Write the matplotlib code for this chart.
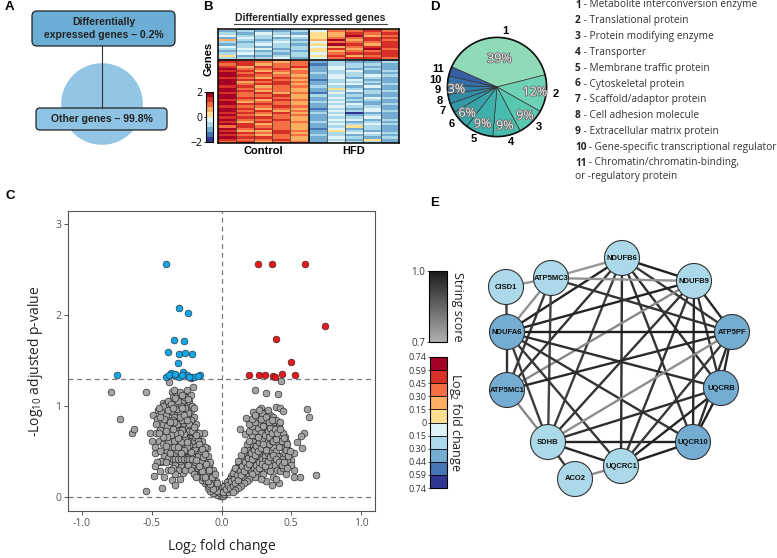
import numpy as np
import matplotlib
matplotlib.use('agg')
import matplotlib.pyplot as plt
import matplotlib.patheffects as pe
from matplotlib.colors import ListedColormap, BoundaryNorm, LinearSegmentedColormap, Normalize
from matplotlib.cm import ScalarMappable
from matplotlib.patches import FancyBboxPatch, Circle

plt.rcParams['font.family'] = ['Open Sans', 'DejaVu Sans']
plt.rcParams['mathtext.fontset'] = 'custom'
plt.rcParams['mathtext.rm'] = 'Open Sans'
plt.rcParams['mathtext.it'] = 'Open Sans:italic'
plt.rcParams['mathtext.bf'] = 'Open Sans:bold'

# ---------------- data ----------------
# A: share of genes
de_share = [0.2, 99.8]

# B: heatmap, one digit per cell (0 = -2 ... 9 = +2), columns 5 Control + 5 HFD
heat_up = [
    "5133356686", "2322347787", "3243256878", "4334456967", "2432357788",
    "6323269687", "3234347778", "2343259868", "4323346788", "3442358697",
    "2323256778", "3432347888", "5223358678", "3334247887",
]
heat_down = [
    "8777623322", "8876723223", "7867713332", "8687824322", "9778624232",
    "8867723423", "9786733322", "9877624343", "8768724232", "9887613422",
    "9678723332", "9788624423", "8867733242", "9777625322", "9867623433",
    "8786714232", "9778633322", "9887624243", "8768723332", "9677634222",
    "9887623423", "8778724332", "9867613242", "9786724343", "8878633022",
    "9767724232", "8887623342", "9778624423", "8687733232", "9867624343",
    "7877623532", "9787614232", "8668725322", "9878623443", "8767733232",
    "9887624323", "8778623252", "7867724332",
]
heat_groups = ["Control", "HFD"]

# C: volcano plot
down_lfc = [-0.397, -0.308, -0.239, -0.339, -0.268, -0.380, -0.308, -0.258, -0.213, -0.313,
            -0.748, -0.151, -0.397, -0.301, -0.217, -0.349, -0.277, -0.361, -0.194, -0.249,
            -0.375, -0.330, -0.285, -0.230, -0.170]
down_p = [2.557, 2.073, 2.015, 1.725, 1.714, 1.597, 1.568, 1.579, 1.575, 1.476,
          1.344, 1.344, 1.322, 1.315, 1.322, 1.344, 1.370, 1.362, 1.315, 1.344,
          1.340, 1.350, 1.335, 1.318, 1.330]
up_lfc = [0.260, 0.363, 0.597, 0.741, 0.392, 0.495, 0.194, 0.272, 0.313, 0.368, 0.385, 0.432, 0.526]
up_p = [2.557, 2.557, 2.557, 1.879, 1.740, 1.480, 1.341, 1.344, 1.344, 1.330, 1.319, 1.352, 1.344]
gray_points = [
    (-0.791, 1.158), (-0.726, 0.861), (-0.640, 0.700), (-0.628, 0.744), (-0.538, 1.150),
    (-0.540, 0.070), (-0.487, 0.231), (-0.492, 0.901), (-0.425, 0.095), (-0.511, 0.707),
    (-0.478, 0.480), (-0.437, 0.388), (-0.375, 1.267), (-0.358, 1.158), (-0.308, 1.132),
    (-0.234, 1.121), (-0.206, 1.212), (-0.217, 1.304), (-0.421, 1.029), (-0.456, 0.956),
    (-0.354, 0.187), (-0.330, 0.132), (-0.277, 0.260), (-0.124, 0.707), (-0.103, 0.535),
    (0.241, 1.176), (0.428, 1.278), (0.320, 1.147), (0.406, 1.132), (0.282, 0.974),
    (0.296, 0.927), (0.387, 0.993), (0.421, 0.974), (0.444, 0.949), (0.612, 0.963),
    (0.626, 0.883), (0.588, 0.707), (0.571, 0.670), (0.542, 0.608), (0.578, 0.542),
    (0.523, 0.480), (0.499, 0.407), (0.523, 0.297), (0.559, 0.223), (0.679, 0.242),
    (0.519, 0.223), (0.456, 0.663), (0.411, 0.158), (0.363, 0.132), (0.134, 0.744),
    (0.170, 0.692), (0.229, 0.930), (0.263, 0.890), (0.177, 0.864), (0.296, 0.791),
    (-0.01, 0.01), (-0.02, 0.03), (-0.03, 0.02), (-0.02, 0.06), (-0.04, 0.05), (-0.05, 0.08),
    (-0.03, 0.10), (-0.06, 0.04), (-0.07, 0.12), (-0.05, 0.15), (-0.08, 0.07), (-0.09, 0.16),
    (-0.06, 0.20), (-0.10, 0.10), (-0.11, 0.21), (-0.08, 0.25), (-0.12, 0.15), (-0.13, 0.27),
    (-0.10, 0.31), (-0.14, 0.19), (-0.15, 0.33), (-0.12, 0.37), (-0.16, 0.24), (-0.17, 0.40),
    (-0.14, 0.44), (-0.18, 0.29), (-0.19, 0.47), (-0.16, 0.52), (-0.20, 0.34), (-0.21, 0.55),
    (-0.18, 0.60), (-0.22, 0.39), (-0.23, 0.63), (-0.20, 0.68), (-0.24, 0.44), (-0.25, 0.71),
    (-0.22, 0.76), (-0.26, 0.50), (-0.27, 0.79), (-0.24, 0.84), (-0.28, 0.55), (-0.29, 0.88),
    (-0.26, 0.92), (-0.30, 0.61), (-0.31, 0.96), (-0.28, 1.00), (-0.32, 0.66), (-0.33, 1.03),
    (-0.30, 1.07), (-0.34, 0.72), (-0.35, 1.10), (-0.36, 0.79), (-0.38, 0.85), (-0.37, 0.98),
    (-0.39, 0.92), (-0.40, 1.02), (-0.41, 0.68), (-0.42, 0.80), (-0.44, 0.74), (-0.43, 0.93),
    (-0.45, 0.62), (-0.46, 0.86), (-0.47, 0.70), (-0.48, 0.55), (-0.04, 0.18), (-0.07, 0.28),
    (-0.09, 0.35), (-0.11, 0.42), (-0.13, 0.50), (-0.15, 0.57), (-0.17, 0.66), (-0.19, 0.72),
    (-0.21, 0.80), (-0.23, 0.88), (-0.25, 0.95), (-0.27, 1.05), (-0.29, 0.75), (-0.31, 0.83),
    (-0.33, 0.90), (-0.35, 0.58), (-0.37, 0.64), (-0.39, 0.50), (-0.41, 0.45), (-0.43, 0.40),
    (-0.20, 0.50), (-0.22, 0.58), (-0.24, 0.65), (-0.26, 0.70), (-0.28, 0.45), (-0.30, 0.50),
    (-0.32, 0.42), (-0.34, 0.48), (-0.36, 0.40), (-0.38, 0.43), (-0.40, 0.38), (-0.25, 0.42),
    (-0.27, 0.38), (-0.29, 0.35), (-0.31, 0.30), (-0.33, 0.36), (-0.35, 0.32), (-0.19, 0.38),
    (-0.21, 0.45), (-0.23, 0.52), (-0.17, 0.32), (-0.15, 0.28), (-0.13, 0.22), (-0.11, 0.18),
    (-0.09, 0.12), (-0.16, 0.44), (-0.18, 0.52), (-0.12, 0.33), (-0.14, 0.38), (-0.10, 0.25),
    (-0.24, 0.77), (-0.26, 0.84), (-0.28, 0.90), (-0.30, 0.93), (-0.32, 0.97), (-0.34, 0.88),
    (-0.36, 0.94), (-0.21, 0.65), (-0.23, 0.72), (-0.19, 0.60), (-0.17, 0.55), (-0.27, 0.62),
    (-0.29, 0.68), (-0.31, 0.73), (-0.33, 0.78), (-0.35, 0.84), (-0.37, 0.73), (-0.39, 0.78),
    (-0.42, 0.58), (-0.44, 0.50), (-0.46, 0.38), (-0.20, 0.88), (-0.22, 0.95), (-0.24, 1.02),
    (-0.26, 1.10), (-0.32, 1.12), (-0.38, 1.05), (-0.40, 0.90), (-0.42, 1.00), (-0.18, 0.80),
    (-0.16, 0.70), (-0.12, 0.55), (-0.10, 0.45), (-0.08, 0.38), (-0.06, 0.30), (-0.14, 0.62),
    (-0.36, 0.55), (-0.34, 0.62), (-0.30, 0.40), (-0.26, 0.58), (-0.30, 1.15), (-0.28, 1.12),
    (-0.34, 1.18), (-0.25, 1.18), (-0.23, 1.05), (-0.21, 1.00), (-0.35, 0.42), (-0.33, 0.42),
    (-0.31, 0.42), (-0.29, 0.42), (-0.27, 0.42), (-0.25, 0.42), (-0.23, 0.42), (-0.21, 0.42),
    (-0.01, 0.04), (-0.02, 0.10), (-0.03, 0.07), (-0.04, 0.13), (-0.05, 0.11), (-0.06, 0.09),
    (-0.07, 0.17), (-0.08, 0.14), (-0.09, 0.21), (-0.10, 0.18), (-0.11, 0.26), (-0.12, 0.22),
    (-0.13, 0.33), (-0.14, 0.28), (-0.15, 0.39), (-0.16, 0.34), (-0.17, 0.45), (-0.18, 0.41),
    (-0.19, 0.54), (-0.20, 0.58), (-0.21, 0.62), (-0.22, 0.49), (-0.23, 0.57), (-0.24, 0.61),
    (-0.25, 0.55), (-0.26, 0.64), (-0.27, 0.69), (-0.28, 0.74), (-0.29, 0.60), (-0.30, 0.70),
    (-0.31, 0.65), (-0.32, 0.80), (-0.33, 0.70), (-0.34, 0.82), (-0.35, 0.75), (-0.36, 0.68),
    (-0.37, 0.82), (-0.38, 0.60), (-0.39, 0.66), (-0.40, 0.72), (-0.22, 0.85), (-0.24, 0.92),
    (-0.26, 0.98), (-0.28, 0.84), (-0.30, 0.88), (-0.32, 0.52), (-0.34, 0.55), (-0.27, 0.52),
    (-0.25, 0.60), (-0.23, 0.80), (-0.21, 0.72), (-0.19, 0.66), (-0.17, 0.61), (-0.15, 0.50),
    (-0.13, 0.44), (-0.11, 0.36), (-0.09, 0.30), (-0.07, 0.22), (-0.05, 0.25), (-0.03, 0.15),
    (-0.16, 0.58), (-0.18, 0.68), (-0.20, 0.77), (-0.14, 0.53), (-0.12, 0.47), (-0.38, 0.95),
    (-0.41, 0.86), (-0.44, 0.88), (-0.45, 0.98), (-0.36, 1.02), (-0.29, 1.00), (-0.27, 0.90),
    (-0.25, 0.85), (-0.35, 0.98), (-0.31, 1.05), (-0.33, 1.09), (-0.28, 0.98), (-0.22, 1.12),
    (-0.24, 1.08), (-0.20, 0.98), (-0.31, 0.55), (-0.29, 0.48), (-0.37, 0.48), (-0.40, 0.56),
    (-0.42, 0.66), (-0.45, 0.70), (-0.47, 0.80), (-0.50, 0.62), (-0.48, 0.34), (-0.44, 0.28),
    (-0.41, 0.22), (-0.38, 0.30), (-0.26, 0.30), (-0.24, 0.35), (-0.22, 0.30), (-0.20, 0.25),
    (-0.18, 0.22), (-0.30, 0.20), (-0.33, 0.25), (-0.36, 0.30),
    (0.01, 0.01), (0.02, 0.03), (0.03, 0.05), (0.02, 0.08), (0.04, 0.10), (0.05, 0.06),
    (0.06, 0.13), (0.05, 0.17), (0.07, 0.09), (0.08, 0.18), (0.07, 0.23), (0.09, 0.13),
    (0.10, 0.22), (0.09, 0.28), (0.11, 0.17), (0.12, 0.27), (0.11, 0.33), (0.13, 0.21),
    (0.14, 0.31), (0.13, 0.38), (0.15, 0.25), (0.16, 0.36), (0.15, 0.43), (0.17, 0.29),
    (0.18, 0.40), (0.17, 0.48), (0.19, 0.33), (0.20, 0.45), (0.19, 0.53), (0.21, 0.37),
    (0.22, 0.50), (0.21, 0.58), (0.23, 0.41), (0.24, 0.54), (0.23, 0.63), (0.25, 0.45),
    (0.26, 0.58), (0.25, 0.67), (0.27, 0.49), (0.28, 0.62), (0.27, 0.72), (0.29, 0.53),
    (0.30, 0.66), (0.29, 0.76), (0.31, 0.57), (0.32, 0.70), (0.31, 0.80), (0.33, 0.61),
    (0.34, 0.74), (0.33, 0.84), (0.35, 0.65), (0.36, 0.78), (0.37, 0.69), (0.38, 0.82),
    (0.39, 0.73), (0.40, 0.60), (0.41, 0.78), (0.42, 0.65), (0.43, 0.55), (0.44, 0.70),
    (0.45, 0.47), (0.46, 0.60), (0.47, 0.40), (0.48, 0.52), (0.50, 0.35), (0.03, 0.14),
    (0.06, 0.20), (0.08, 0.26), (0.10, 0.32), (0.12, 0.40), (0.14, 0.46), (0.16, 0.52),
    (0.18, 0.58), (0.20, 0.62), (0.22, 0.68), (0.24, 0.72), (0.26, 0.76), (0.28, 0.80),
    (0.30, 0.85), (0.19, 0.25), (0.21, 0.28), (0.23, 0.32), (0.25, 0.35), (0.27, 0.38),
    (0.29, 0.42), (0.31, 0.45), (0.33, 0.48), (0.35, 0.52), (0.37, 0.55), (0.39, 0.50),
    (0.41, 0.45), (0.43, 0.42), (0.36, 0.40), (0.34, 0.35), (0.32, 0.30), (0.30, 0.35),
    (0.28, 0.30), (0.38, 0.35), (0.40, 0.30), (0.42, 0.28), (0.44, 0.32), (0.46, 0.25),
    (0.26, 0.25), (0.24, 0.22), (0.15, 0.18), (0.17, 0.20), (0.13, 0.15), (0.20, 0.72),
    (0.22, 0.78), (0.24, 0.82), (0.26, 0.88), (0.28, 0.70), (0.32, 0.62), (0.34, 0.58),
    (0.36, 0.62), (0.38, 0.68), (0.40, 0.45), (0.35, 0.90), (0.37, 0.88), (0.39, 0.85),
    (0.42, 0.82), (0.44, 0.60), (0.46, 0.52), (0.48, 0.45), (0.33, 0.95), (0.29, 0.92),
    (0.27, 0.95), (0.31, 0.40), (0.30, 0.25), (0.35, 0.28), (0.37, 0.22), (0.39, 0.20),
    (0.32, 0.18), (0.28, 0.20),
    (0.01, 0.05), (0.02, 0.12), (0.03, 0.09), (0.04, 0.16), (0.05, 0.13), (0.06, 0.10),
    (0.07, 0.17), (0.08, 0.12), (0.09, 0.20), (0.10, 0.15), (0.11, 0.24), (0.12, 0.19),
    (0.13, 0.29), (0.14, 0.24), (0.15, 0.34), (0.16, 0.28), (0.17, 0.38), (0.18, 0.33),
    (0.19, 0.43), (0.20, 0.36), (0.21, 0.48), (0.22, 0.42), (0.23, 0.52), (0.24, 0.46),
    (0.25, 0.56), (0.26, 0.50), (0.27, 0.60), (0.28, 0.54), (0.29, 0.64), (0.30, 0.58),
    (0.31, 0.68), (0.32, 0.52), (0.33, 0.72), (0.34, 0.66), (0.35, 0.76), (0.36, 0.70),
    (0.37, 0.62), (0.38, 0.75), (0.39, 0.64), (0.40, 0.70), (0.41, 0.55), (0.42, 0.75),
    (0.43, 0.62), (0.45, 0.65), (0.47, 0.58), (0.49, 0.50), (0.20, 0.80), (0.22, 0.86),
    (0.24, 0.90), (0.26, 0.66), (0.28, 0.86), (0.30, 0.78), (0.32, 0.88), (0.34, 0.82),
    (0.36, 0.85), (0.25, 0.28), (0.27, 0.32), (0.29, 0.36), (0.31, 0.34), (0.33, 0.40),
    (0.35, 0.44), (0.37, 0.46), (0.39, 0.42), (0.41, 0.38), (0.43, 0.35), (0.45, 0.38),
    (0.47, 0.32), (0.22, 0.25), (0.20, 0.20), (0.18, 0.18), (0.16, 0.15), (0.14, 0.12),
    (0.12, 0.10), (0.10, 0.08), (0.08, 0.06),
]
gray_lfc = [p[0] for p in gray_points]
gray_p = [p[1] for p in gray_points]

# D: protein classes
class_ids = ["1", "2", "3", "4", "5", "6", "7", "8", "9", "10", "11"]
class_pct = [39, 12, 9, 9, 9, 6, 3, 3, 3, 3, 3]
pct_labels = ["39%", "12%", "9%", "9%", "9%", "6%", "", "", "3%", "", ""]
class_names = [
    "Metabolite interconversion enzyme", "Translational protein",
    "Protein modifying enzyme", "Transporter", "Membrane traffic protein",
    "Cytoskeletal protein", "Scaffold/adaptor protein", "Cell adhesion molecule",
    "Extracellular matrix protein", "Gene-specific transcriptional regulator",
    "Chromatin/chromatin-binding,\nor -regulatory protein",
]

# E: network
node_names = ["NDUFB6", "NDUFB9", "ATP5PF", "UQCRB", "UQCR10", "UQCRC1",
              "ACO2", "SDHB", "ATP5MC1", "NDUFA6", "CISD1", "ATP5MC3"]
node_lfc = [-0.25, -0.26, -0.35, -0.34, -0.36, -0.22, -0.21, -0.24, -0.33, -0.38, -0.23, -0.27]
edges = [
    ("NDUFB6", "NDUFB9", 0.99), ("NDUFB6", "ATP5MC3", 0.75), ("NDUFB6", "NDUFA6", 0.98),
    ("NDUFB6", "ATP5MC1", 0.95), ("NDUFB6", "SDHB", 0.93), ("NDUFB6", "UQCRC1", 0.96),
    ("NDUFB6", "UQCR10", 0.95), ("NDUFB6", "UQCRB", 0.96), ("NDUFB6", "ATP5PF", 0.94),
    ("NDUFB9", "ATP5MC3", 0.76), ("NDUFB9", "NDUFA6", 0.98), ("NDUFB9", "ATP5MC1", 0.78),
    ("NDUFB9", "SDHB", 0.95), ("NDUFB9", "UQCRC1", 0.95), ("NDUFB9", "UQCR10", 0.97),
    ("NDUFB9", "UQCRB", 0.95), ("NDUFB9", "ATP5PF", 0.97), ("ATP5MC3", "CISD1", 0.75),
    ("ATP5MC3", "NDUFA6", 0.76), ("ATP5MC3", "ATP5MC1", 0.94), ("ATP5MC3", "ATP5PF", 0.95),
    ("ATP5MC3", "SDHB", 0.92), ("NDUFA6", "CISD1", 0.93), ("NDUFA6", "ATP5PF", 0.99),
    ("NDUFA6", "UQCRB", 0.96), ("NDUFA6", "UQCR10", 0.95), ("NDUFA6", "UQCRC1", 0.94),
    ("NDUFA6", "SDHB", 0.93), ("NDUFA6", "ATP5MC1", 0.95), ("ATP5MC1", "ATP5PF", 0.97),
    ("ATP5MC1", "SDHB", 0.78), ("SDHB", "UQCR10", 0.98), ("SDHB", "UQCRB", 0.96),
    ("SDHB", "ATP5PF", 0.77), ("SDHB", "ACO2", 0.94), ("SDHB", "UQCRC1", 0.97),
    ("UQCRC1", "UQCR10", 0.99), ("UQCRC1", "UQCRB", 0.98), ("UQCRC1", "ACO2", 0.77),
    ("UQCRC1", "ATP5PF", 0.94), ("UQCRB", "ATP5PF", 0.97), ("UQCRB", "UQCR10", 0.99),
    ("UQCR10", "ATP5PF", 0.96),
]
fc_bounds = [-0.74, -0.59, -0.44, -0.30, -0.15, 0, 0.15, 0.30, 0.45, 0.59, 0.74]

# ---------------- layout / style ----------------
W, H = 777, 558
fig = plt.figure(figsize=(W / 100, H / 100), dpi=100)


def px(x0, y0, x1, y1):
    return [x0 / W, 1 - y1 / H, (x1 - x0) / W, (y1 - y0) / H]


rdylbu = ['#313695', '#4575b4', '#74add1', '#abd9e9', '#e0f3f8',
          '#fee090', '#fdae61', '#f46d43', '#d73027', '#a50026']
BOLD = dict(family=['Liberation Sans', 'DejaVu Sans'], fontweight='bold')

ov = fig.add_axes([0, 0, 1, 1], zorder=5)
ov.set_xlim(0, W)
ov.set_ylim(H, 0)
ov.axis('off')
ov.patch.set_alpha(0)

for lab, (x, y) in zip("ABCDE", [(5, 7), (203, 7), (5, 196), (430, 7), (430, 203)]):
    ov.text(x, y, lab, fontsize=9.5, ha='left', va='center', **BOLD)

# ---- A ----
axA = fig.add_axes(px(51, 53, 153, 155))
axA.pie(de_share, colors=['#6aaed6', '#93c5e4'], startangle=90, counterclock=False,
        wedgeprops=dict(linewidth=0))
ov.plot([102, 102], [46, 108], color='#333333', lw=0.8)
ov.add_patch(FancyBboxPatch((32, 11), 143, 35, boxstyle='round,pad=0,rounding_size=5',
                            fc='#6aaed6', ec='#222222', lw=0.9))
ov.add_patch(FancyBboxPatch((36, 108), 131, 22, boxstyle='round,pad=0,rounding_size=4',
                            fc='#8fc3e3', ec='#222222', lw=0.9))
ov.text(103.5, 28.5, "Differentially\nexpressed genes \u2013 0.2%", ha='center', va='center',
        fontsize=7.5, linespacing=1.35, color='#222222', **BOLD)
ov.text(101.5, 119, "Other genes \u2013 99.8%", ha='center', va='center',
        fontsize=7.5, color='#222222', **BOLD)

# ---- B ----
heat = np.array([[int(c) for c in r] for r in heat_up + heat_down])
heat_vals = -2 + 4 * heat / 9
heat_cmap = ListedColormap(rdylbu)
axB = fig.add_axes(px(218, 29, 399, 143))
axB.imshow(heat_vals, cmap=heat_cmap, vmin=-2, vmax=2, aspect='auto', interpolation='nearest',
           extent=(0, heat.shape[1], heat.shape[0], 0))
axB.set_xlim(0, heat.shape[1])
axB.set_ylim(heat.shape[0], 0)
for c in range(1, heat.shape[1]):
    axB.axvline(c, color='#333333', lw=0.5)
axB.axvline(5, color='#111111', lw=1.2)
axB.axhline(len(heat_up), color='#111111', lw=1.2)
axB.set_xticks([])
axB.set_yticks([])
for sp in axB.spines.values():
    sp.set_linewidth(1.1)
ov.text(310, 18, "Differentially expressed genes", ha='center', va='center', fontsize=7.5,
        color='#222222', **BOLD)
ov.plot([234, 387], [24, 24], color='#444444', lw=0.8)
ov.text(209, 59, "Genes", rotation=90, ha='center', va='center', fontsize=8, **BOLD)
ov.text(263, 151, heat_groups[0], ha='center', va='center', fontsize=8, **BOLD)
ov.text(354, 151, heat_groups[1], ha='center', va='center', fontsize=8, **BOLD)
axBc = fig.add_axes(px(206, 92, 213, 142))
cbB = fig.colorbar(ScalarMappable(norm=Normalize(-2, 2), cmap=heat_cmap), cax=axBc)
cbB.set_ticks([2, 0, -2])
cbB.ax.yaxis.set_ticks_position('left')
cbB.ax.tick_params(labelsize=7.5, length=1.5, width=0.6, pad=1)
cbB.outline.set_linewidth(0.8)

# ---- C ----
axC = fig.add_axes(px(68, 211, 375, 511))
dash = (0, (4, 3))
axC.axhline(1.3, ls=dash, color='#7a7a7a', lw=0.9, zorder=1)
axC.axhline(0, ls=dash, color='#7a7a7a', lw=0.9, zorder=1)
axC.axvline(0, ls=dash, color='#7a7a7a', lw=0.9, zorder=1)
axC.scatter(gray_lfc, gray_p, s=24, c='#a3a3a3', edgecolors='#111111', linewidths=0.4, zorder=2)
axC.scatter(down_lfc, down_p, s=24, c='#16a6e6', edgecolors='#222222', linewidths=0.4, zorder=3)
axC.scatter(up_lfc, up_p, s=24, c='#e3191c', edgecolors='#222222', linewidths=0.4, zorder=3)
axC.set_xlim(-1.1, 1.1)
axC.set_ylim(-0.154, 3.14)
axC.set_xticks([-1, -0.5, 0, 0.5, 1])
axC.set_xticklabels(["-1.0", "-0.5", "0.0", "0.5", "1.0"])
axC.set_yticks([0, 1, 2, 3])
for sp in axC.spines.values():
    sp.set_color('#555555')
    sp.set_linewidth(0.8)
axC.tick_params(colors='#555555', labelsize=7.5, length=3, width=0.7, pad=2)
axC.set_ylabel("-Log$_{10}$ adjusted p-value", fontsize=10, color='#222222')
axC.set_xlabel("Log$_2$ fold change", fontsize=10, color='#222222')
axC.yaxis.set_label_coords(-0.075, 0.5)
axC.xaxis.set_label_coords(0.5, -0.085)

# ---- D ----
class_colors = ['#8fdab7', '#70d2b4', '#5ac8b1', '#48bcad', '#3eb0ab', '#38a4aa',
                '#3598a9', '#338ba8', '#337ea8', '#3470a7', '#375fa3']
axD = fig.add_axes(px(435, 25, 559, 149))
wedges, texts = axD.pie(class_pct, labels=class_ids, colors=class_colors, startangle=156,
                        counterclock=False, labeldistance=1.13,
                        wedgeprops=dict(edgecolor='#333333', linewidth=0.5),
                        textprops=dict(fontsize=8, **BOLD))
axD.add_patch(Circle((0, 0), 1, fill=False, ec='#111111', lw=1.2))
pct_radius = [0.57, 0.77, 0.81, 0.8, 0.8, 0.8, 0.8, 0.8, 0.82, 0.8, 0.8]
for w, lab, r in zip(wedges, pct_labels, pct_radius):
    ang = np.deg2rad((w.theta1 + w.theta2) / 2)
    axD.text(r * np.cos(ang), r * np.sin(ang), lab, ha='center', va='center', fontsize=9,
             color='#f2f2f2', path_effects=[pe.withStroke(linewidth=1.3, foreground='#6e6e6e')])
for i, (cid, name) in enumerate(zip(class_ids, class_names)):
    y = 5 + 15.8 * i
    lines = name.split("\n")
    num = ov.text(575, y, cid, ha='left', va='center', fontsize=7.3, fontweight='bold',
                  color='#222222')
    ov.annotate(" - " + lines[0], xy=(1, 0.5), xycoords=num, ha='left', va='center',
                fontsize=7.3, color='#333333')
    if len(lines) > 1:
        ov.text(575, y + 13, lines[1], ha='left', va='center', fontsize=7.3, color='#333333')

# ---- E ----
edge_cmap = LinearSegmentedColormap.from_list('str', ['#b0b0b0', '#1a1a1a'])
edge_norm = Normalize(0.7, 1.0)
fc_cmap = ListedColormap(rdylbu)
fc_norm = BoundaryNorm(fc_bounds, fc_cmap.N)

axS = fig.add_axes(px(429, 271, 447, 342))
cbS = fig.colorbar(ScalarMappable(norm=edge_norm, cmap=edge_cmap), cax=axS)
cbS.set_ticks([0.7, 1.0])
cbS.set_ticklabels(["0.7", "1.0"])
cbS.ax.yaxis.set_ticks_position('left')
cbS.ax.yaxis.set_label_position('right')
cbS.set_label("String score", rotation=270, fontsize=9, labelpad=12, color='#222222')
cbS.ax.tick_params(labelsize=7, length=1.5, width=0.6, pad=1, colors='#333333')
cbS.outline.set_linewidth(0.8)

axL = fig.add_axes(px(430, 357, 447, 488))
cbL = fig.colorbar(ScalarMappable(norm=fc_norm, cmap=fc_cmap), cax=axL, drawedges=True,
                   spacing='uniform')
cbL.set_ticks(fc_bounds)
cbL.set_ticklabels(["0" if b == 0 else f"{abs(b):.2f}" for b in fc_bounds])
cbL.ax.yaxis.set_ticks_position('left')
cbL.ax.yaxis.set_label_position('right')
cbL.set_label("Log$_2$ fold change", rotation=270, fontsize=9, labelpad=12, color='#222222')
cbL.ax.tick_params(labelsize=6.5, length=1.5, width=0.6, pad=1, colors='#333333')
cbL.outline.set_linewidth(0.8)
cbL.dividers.set_linewidth(0.6)

node_pos = {
    "NDUFB6": (622, 258), "NDUFB9": (694, 281), "ATP5PF": (732, 332), "UQCRB": (721, 388),
    "UQCR10": (693, 442), "UQCRC1": (621, 466), "ACO2": (575, 479), "SDHB": (548, 442),
    "ATP5MC1": (507, 390), "NDUFA6": (507, 332), "CISD1": (506, 287), "ATP5MC3": (551, 278),
}
axN = fig.add_axes(px(480, 228, 770, 500))
axN.set_xlim(480, 770)
axN.set_ylim(500, 228)
axN.axis('off')
for a, b, s in edges:
    (xa, ya), (xb, yb) = node_pos[a], node_pos[b]
    axN.plot([xa, xb], [ya, yb], color=edge_cmap(edge_norm(s)), lw=1.7, zorder=1)
for name, v in zip(node_names, node_lfc):
    x, y = node_pos[name]
    axN.add_patch(Circle((x, y), 17.5, fc=fc_cmap(fc_norm(v)), ec='#333333', lw=0.8, zorder=2))
    axN.text(x, y, name, ha='center', va='center', fontsize=5.5, zorder=3, color='#111111', **BOLD)

fig.savefig("out.png", dpi=100)
